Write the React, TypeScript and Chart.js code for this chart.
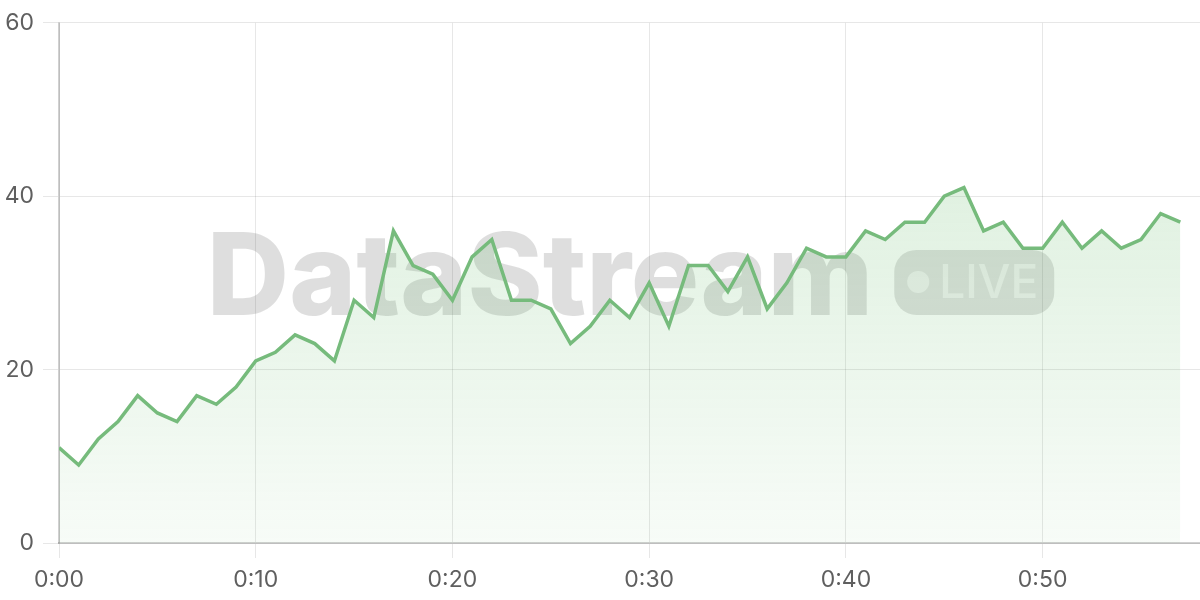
import React, { useEffect, useRef } from "react";
import { Chart, registerables } from "chart.js";

Chart.register(...registerables);

const minutes = [
  0, 1, 2, 3, 4, 5, 6, 7, 8, 9, 10, 11, 12, 13, 14, 15, 16, 17, 18, 19,
  20, 21, 22, 23, 24, 25, 26, 27, 28, 29, 30, 31, 32, 33, 34, 35, 36, 37, 38, 39,
  40, 41, 42, 43, 44, 45, 46, 47, 48, 49, 50, 51, 52, 53, 54, 55, 56, 57,
];

const values = [
  11, 9, 12, 14, 17, 15, 14, 17, 16, 18, 21, 22, 24, 23, 21, 28, 26, 36, 32, 31,
  28, 33, 35, 28, 28, 27, 23, 25, 28, 26, 30, 25, 32, 32, 29, 33, 27, 30, 34, 33,
  33, 36, 35, 37, 37, 40, 41, 36, 37, 34, 34, 37, 34, 36, 34, 35, 38, 37,
];

const xRange = [0, 58];
const yRange = [0, 60];
const xStep = 10;
const yStep = 20;

const watermarkTitle = "DataStream";
const watermarkBadge = "LIVE";

const formatMinute = (v: number) => `0:${String(v).padStart(2, "0")}`;

const watermarkPlugin = {
  id: "watermark",
  beforeDatasetsDraw(chart: any) {
    const { ctx, chartArea } = chart;
    if (!chartArea) return;
    const cx = (chartArea.left + chartArea.right) / 2;
    const cy = (chartArea.top + chartArea.bottom) / 2;
    ctx.save();
    ctx.font = "800 114px Inter";
    const tw = ctx.measureText(watermarkTitle).width;
    const gap = 21;
    const pw = 160;
    const ph = 65;
    const total = tw + gap + pw;
    const sx = cx - total / 2 + 1;
    ctx.fillStyle = "rgba(0,0,0,0.13)";
    ctx.textBaseline = "alphabetic";
    ctx.textAlign = "left";
    ctx.fillText(watermarkTitle, sx, cy + 32);
    const px = sx + tw + gap;
    const py = cy - 33;
    ctx.beginPath();
    ctx.roundRect(px, py, pw, ph, 22);
    ctx.fillStyle = "rgba(0,0,0,0.12)";
    ctx.fill();
    ctx.fillStyle = "rgba(255,255,255,0.55)";
    ctx.beginPath();
    ctx.arc(px + 24, cy - 1, 11, 0, Math.PI * 2);
    ctx.fill();
    ctx.font = "500 46px Inter";
    ctx.fillText(watermarkBadge, px + 45, cy + 15);
    ctx.restore();
  },
};

export default function App() {
  const ref = useRef<HTMLCanvasElement | null>(null);

  useEffect(() => {
    if (!ref.current) return;
    Chart.defaults.font.family = "Inter";
    const chart = new Chart(ref.current, {
      type: "line",
      data: {
        labels: minutes,
        datasets: [
          {
            data: minutes.map((m, i) => ({ x: m, y: values[i] })),
            borderColor: "#76bb7c",
            borderWidth: 3.5,
            pointRadius: 0,
            tension: 0,
            fill: "origin",
            backgroundColor: (c: any) => {
              const { chart } = c;
              const area = chart.chartArea;
              if (!area) return "rgba(102,187,106,0.15)";
              const g = chart.ctx.createLinearGradient(0, area.top, 0, area.bottom);
              g.addColorStop(0, "rgba(102,187,106,0.27)");
              g.addColorStop(1, "rgba(102,187,106,0.05)");
              return g;
            },
          },
        ],
      },
      options: {
        animation: false,
        responsive: false,
        layout: { padding: { top: 8, right: 0, bottom: 0, left: 0 } },
        plugins: { legend: { display: false }, tooltip: { enabled: false } },
        scales: {
          x: {
            type: "linear",
            min: xRange[0],
            max: xRange[1],
            afterFit: (s: any) => {
              s.height = 57;
            },
            ticks: {
              stepSize: xStep,
              includeBounds: false,
              color: "#5f5f5f",
              font: { size: 23 },
              padding: 8,
              maxRotation: 0,
              callback: (v: any) => formatMinute(Number(v)),
            },
            grid: { color: "rgba(0,0,0,0.095)", tickLength: 15 },
            border: { color: "rgba(0,0,0,0.18)", width: 2 },
          },
          y: {
            min: yRange[0],
            max: yRange[1],
            afterFit: (s: any) => {
              s.width = 59;
            },
            ticks: {
              stepSize: yStep,
              color: "#5f5f5f",
              font: { size: 23 },
              padding: 9,
            },
            grid: { color: "rgba(0,0,0,0.095)", tickLength: 16 },
            border: { color: "rgba(0,0,0,0.18)", width: 2 },
          },
        },
      },
      plugins: [watermarkPlugin],
    } as any);
    return () => chart.destroy();
  }, []);

  return (
    <canvas
      ref={ref}
      width={1200}
      height={600}
      style={{ position: "absolute", left: 0, top: 0, width: 1200, height: 600, display: "block" }}
    />
  );
}
